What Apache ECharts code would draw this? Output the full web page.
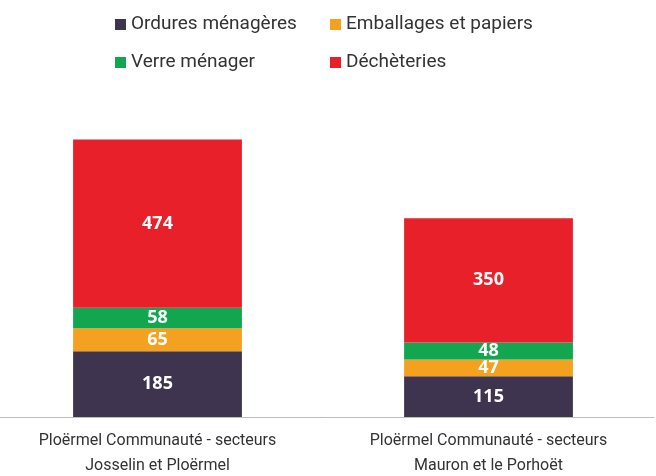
<!DOCTYPE html>
<html>
<head>
<meta charset="utf-8">
<script src="https://cdn.jsdelivr.net/npm/echarts@6/dist/echarts.min.js"></script>
<style>
  html, body { margin: 0; padding: 0; background: #fff; }
  #chart { width: 656px; height: 476px; }
</style>
</head>
<body>
<div id="chart"></div>
<script>
const categories = ['Ploërmel Communauté - secteurs\nJosselin et Ploërmel', 'Ploërmel Communauté - secteurs\nMauron et le Porhoët'];
const ordures = [185, 115];
const emballages = [65, 47];
const verre = [58, 48];
const decheteries = [474, 350];

const seriesNames = ['Ordures ménagères', 'Emballages et papiers', 'Verre ménager', 'Déchèteries'];
const seriesColors = ['#3e3450', '#f4a11f', '#12a650', '#e8202a'];
const seriesData = [ordures, emballages, verre, decheteries];

const myChart = echarts.init(document.getElementById('chart'));

// étiquettes blanches en gras dans les barres
const makeSeries = (name, i) => ({
  name: name,
  type: 'bar',
  stack: 'total',
  barWidth: '51%',
  itemStyle: { color: seriesColors[i] },
  label: {
    show: true,
    position: 'inside',
    color: '#fff',
    fontFamily: 'Open Sans',
    fontWeight: 'bold',
    fontSize: 18
  },
  data: seriesData[i]
});

const option = {
  animation: false,
  textStyle: { fontFamily: 'Roboto' },
  legend: {
    left: 115,
    top: 13,
    padding: 0,
    width: 460,
    itemWidth: 11,
    itemHeight: 11,
    itemGap: 15,
    icon: 'rect',
    textStyle: { fontSize: 19, color: '#333', width: 184, lineHeight: 23, fontFamily: 'Roboto' },
    data: seriesNames
  },
  grid: { left: -8, right: 2, top: 133, bottom: 59, outerBoundsMode: 'none' },
  xAxis: {
    type: 'category',
    data: categories,
    axisLine: { lineStyle: { color: '#bdbdbd', width: 1 } },
    axisTick: { show: false },
    axisLabel: { interval: 0, color: '#333', fontSize: 16, lineHeight: 25, margin: 11, fontFamily: 'Roboto' }
  },
  yAxis: {
    type: 'value',
    min: 0,
    max: 800,
    show: false,
    splitLine: { show: false }
  },
  series: seriesNames.map(makeSeries)
};

myChart.setOption(option);
</script>
</body>
</html>
